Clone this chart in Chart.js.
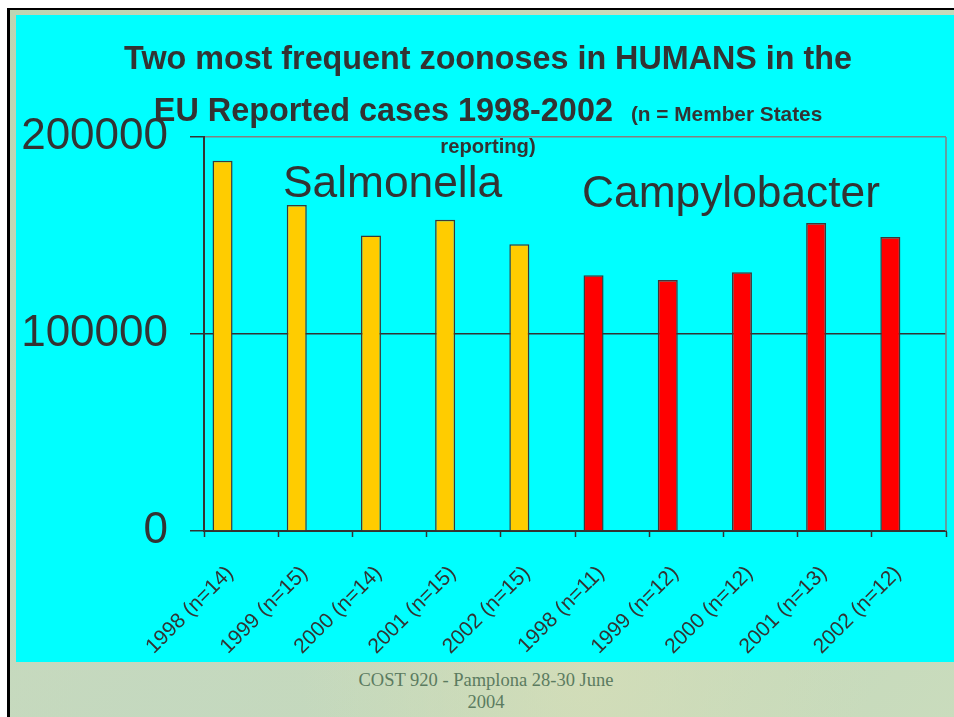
<!DOCTYPE html>
<html>
<head>
<meta charset="utf-8">
<script src="https://cdn.jsdelivr.net/npm/chart.js@4/dist/chart.umd.min.js"></script>
<style>
  html, body { margin: 0; padding: 0; background: #fff; }
  #page { position: relative; width: 954px; height: 717px; overflow: hidden; background: #fff; }
  #frame {
    position: absolute; left: 7px; top: 8px; width: 960px; height: 720px;
    border-left: 3px solid #000; border-top: 2px solid #000;
    background:
      radial-gradient(ellipse at 60% 92%, rgba(214,222,184,0.8), rgba(214,222,184,0) 35%),
      radial-gradient(ellipse at 15% 95%, rgba(196,216,192,0.8), rgba(196,216,192,0) 40%),
      linear-gradient(135deg, #bcd4b2 0%, #c8dbbb 40%, #c2d8ba 70%, #cadcbd 100%);
  }
  #slide { position: absolute; left: 16px; top: 15px; width: 938px; height: 647px; background: #00ffff; }
  #slide canvas { position: absolute; left: 0; top: 0; }
  .t { position: absolute; font-family: 'Liberation Sans', Arial, sans-serif; color: #333; white-space: nowrap; line-height: 1; }
  .c { left: 88px; width: 800px; text-align: center; }
  .f { position: absolute; left: 286px; width: 400px; text-align: center; font-family: 'Liberation Serif', 'Times New Roman', serif;
       font-size: 18.5px; line-height: 1; color: #5b7b60; white-space: nowrap; }
</style>
</head>
<body>
<div id="page">
  <div id="frame"></div>
  <div id="slide"><canvas id="chart" width="938" height="647"></canvas></div>
  <div class="t c" style="top:42px;font-size:32.3px;font-weight:bold;">Two most frequent zoonoses in HUMANS in the</div>
  <div class="t c" style="top:94px;font-size:32.4px;font-weight:bold;">EU Reported cases 1998-2002&nbsp; <span style="font-size:20.8px;">(n = Member States</span></div>
  <div class="t c" style="top:136px;font-size:20.2px;font-weight:bold;">reporting)</div>
  <div class="t" style="left:283px;top:160px;font-size:44.3px;">Salmonella</div>
  <div class="t" style="left:582px;top:170px;font-size:44.3px;">Campylobacter</div>
  <div class="f" style="top:671px;">COST 920 - Pamplona 28-30 June</div>
  <div class="f" style="top:693px;">2004</div>
</div>
<script>
const categories = [
  '1998 (n=14)', '1999 (n=15)', '2000 (n=14)', '2001 (n=15)', '2002 (n=15)',
  '1998 (n=11)', '1999 (n=12)', '2000 (n=12)', '2001 (n=13)', '2002 (n=12)'
];
const salmonellaCategories = categories.slice(0, 5);
const campylobacterCategories = categories.slice(5);
const salmonellaCases = [188000, 165500, 150000, 158000, 145500];
const campylobacterCases = [129800, 127400, 131400, 156300, 149200];
const yTickValues = [0, 100000, 200000];

const FONT = "'Liberation Sans', Arial, sans-serif";

const salmonellaData = salmonellaCategories.map((c, i) => ({ x: c, y: salmonellaCases[i] }));
const campylobacterData = campylobacterCategories.map((c, i) => ({ x: c, y: campylobacterCases[i] }));

const plotFrame = {
  id: 'plotFrame',
  beforeDatasetsDraw(chart) {
    const { ctx, chartArea } = chart;
    ctx.save();
    ctx.strokeStyle = '#808080';
    ctx.lineWidth = 1.5;
    ctx.beginPath();
    ctx.moveTo(chartArea.right, chartArea.top);
    ctx.lineTo(chartArea.right, chartArea.bottom);
    ctx.stroke();
    ctx.restore();
  }
};

new Chart(document.getElementById('chart'), {
  type: 'bar',
  data: {
    labels: categories,
    datasets: [
      { label: 'Salmonella', data: salmonellaData, backgroundColor: '#ffcc00', borderColor: '#3a3a3a',
        borderWidth: 1.5, stack: 'cases', categoryPercentage: 1, barPercentage: 0.54 },
      { label: 'Campylobacter', data: campylobacterData, backgroundColor: '#ff0000', borderColor: '#3a3a3a',
        borderWidth: 1.5, stack: 'cases', categoryPercentage: 1, barPercentage: 0.54 },
      { label: '', data: [], stack: 'blank', categoryPercentage: 1, barPercentage: 0.54 }
    ]
  },
  options: {
    responsive: false,
    animation: false,
    layout: { padding: { top: 122, right: 8, left: 0, bottom: 0 } },
    plugins: { legend: { display: false }, tooltip: { enabled: false }, title: { display: false } },
    scales: {
      x: {
        stacked: true,
        offset: true,
        grid: { offset: true, drawOnChartArea: false, tickLength: 6, tickColor: '#333', tickWidth: 1.5 },
        border: { color: '#333', width: 2 },
        ticks: { autoSkip: false, minRotation: 45, maxRotation: 45, color: '#333', padding: 24, labelOffset: -11,
                 font: { family: FONT, size: 21 } },
        afterFit(scale) { scale.height = 131; }
      },
      y: {
        stacked: false,
        min: 0,
        max: 200000,
        afterBuildTicks(scale) { scale.ticks = yTickValues.map(v => ({ value: v })); },
        grid: {
          color: c => (c.tick && c.tick.value === 200000 ? '#808080' : '#333'),
          lineWidth: 1.5, tickLength: 14, tickColor: '#333', tickWidth: 1.5
        },
        border: { color: '#333', width: 2 },
        ticks: { color: '#333', padding: 22, font: { family: FONT, size: 44 }, callback: v => String(v) },
        afterFit(scale) { scale.width = 188; }
      }
    }
  },
  plugins: [plotFrame]
});
</script>
</body>
</html>
